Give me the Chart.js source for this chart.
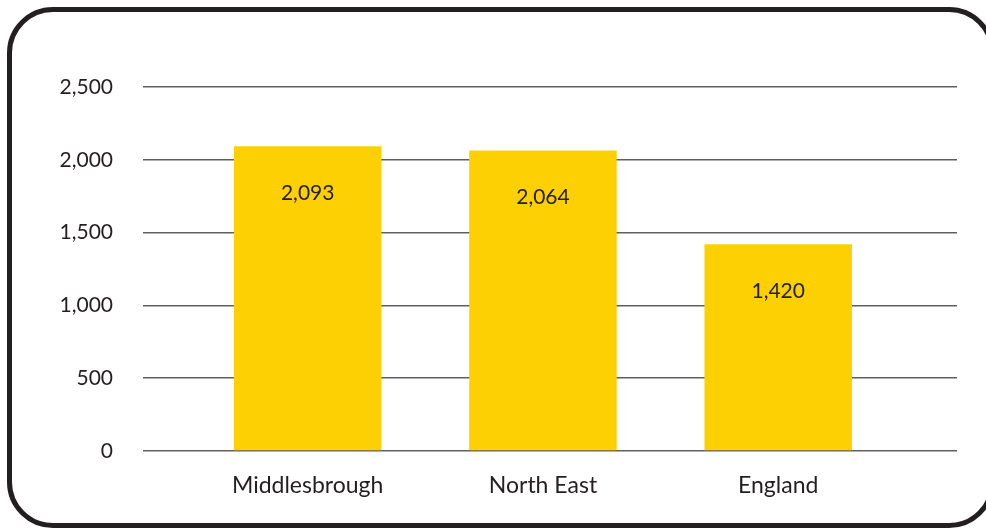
<!DOCTYPE html>
<html>
<head>
<meta charset="utf-8">
<script src="https://cdn.jsdelivr.net/npm/chart.js@4/dist/chart.umd.min.js"></script>
<style>
    html, body { margin: 0; padding: 0; background: #fff; }
    #wrap { position: relative; width: 986px; height: 529px; overflow: hidden; }
    #frame {
        position: absolute; left: 7px; top: 7px; width: 988px; height: 521px;
        box-sizing: border-box; border: 5px solid #231f20; border-radius: 46px;
        pointer-events: none;
    }
    canvas { position: absolute; left: 0; top: 0; }
</style>
</head>
<body>
<div id="wrap">
    <canvas id="chart" width="986" height="529"></canvas>
    <div id="frame"></div>
</div>
<script>
const categories = ["Middlesbrough", "North East", "England"];
const values = [2093, 2064, 1420];
const yTicks = [0, 500, 1000, 1500, 2000, 2500];

const textColor = "#231f20";
const fontFamily = "Lato, 'Open Sans', sans-serif";

function formatNum(value) {
    return value.toLocaleString("en-GB");
}

// draws the value inside each bar, a bit under its top
const valueLabels = {
    id: "valueLabels",
    afterDraw(chart) {
        const ctx = chart.ctx;
        const meta = chart.getDatasetMeta(0);
        ctx.save();
        ctx.font = "21px " + fontFamily;
        ctx.fillStyle = textColor;
        ctx.textAlign = "center";
        ctx.textBaseline = "middle";
        meta.data.forEach((bar, i) => {
            ctx.fillText(formatNum(values[i]), bar.x, bar.y + 47);
        });
        ctx.restore();
    }
};

new Chart(document.getElementById("chart"), {
    type: "bar",
    data: {
        datasets: [{
            data: values.map((v, i) => ({ x: i, y: v })),
            backgroundColor: "#fdd004",
            borderWidth: 0,
            categoryPercentage: 1,
            barPercentage: 0.627
        }]
    },
    options: {
        responsive: false,
        animation: false,
        layout: { padding: { top: 87, right: 29, bottom: 0, left: 0 } },
        plugins: {
            legend: { display: false },
            tooltip: { enabled: false }
        },
        scales: {
            x: {
                type: "linear",
                offset: false,
                min: -0.7,
                max: 2.76,
                afterBuildTicks: scale => {
                    scale.ticks = categories.map((c, i) => ({ value: i }));
                },
                afterFit: scale => { scale.height = 78; },
                grid: { display: false },
                border: { display: false },
                ticks: {
                    padding: 13,
                    color: textColor,
                    font: { family: fontFamily, size: 23 },
                    callback: value => categories[value]
                }
            },
            y: {
                min: 0,
                max: 2500,
                z: 1,
                afterBuildTicks: scale => {
                    scale.ticks = yTicks.map(v => ({ value: v }));
                },
                afterFit: scale => { scale.width = 143; },
                grid: { color: "#5f5f5f", lineWidth: 1.5, drawTicks: false },
                border: { display: false },
                ticks: {
                    padding: 30,
                    color: textColor,
                    font: { family: fontFamily, size: 21 },
                    callback: value => formatNum(value)
                }
            }
        }
    },
    plugins: [valueLabels]
});
</script>
</body>
</html>
